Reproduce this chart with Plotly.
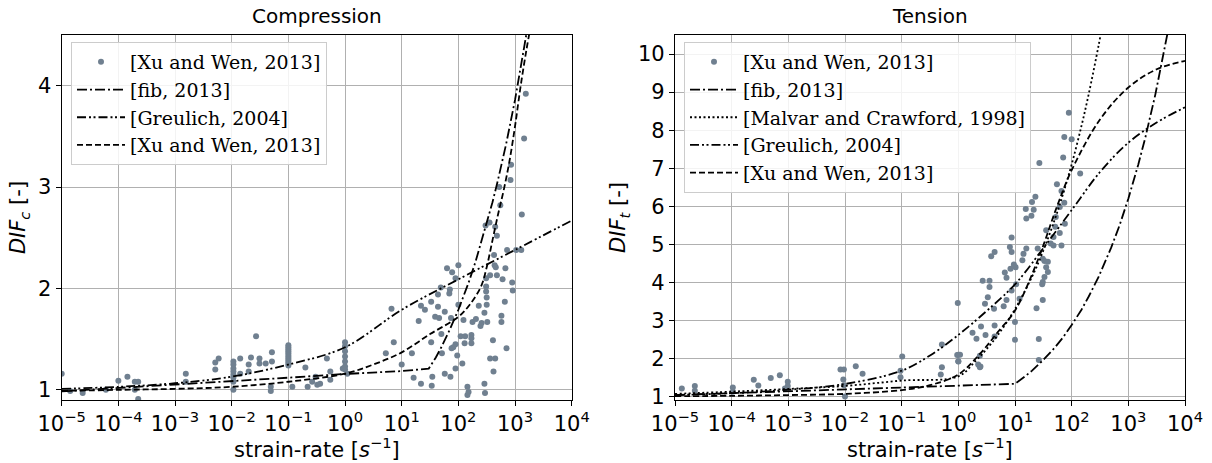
import numpy as np
import plotly.graph_objects as go

# ---------------- data ----------------
# Compression experimental data [Xu and Wen, 2013]: log10(strain-rate), DIF_c
comp_log_rate = [
    -5.0, -4.85, -4.63, -4.22, -4.0, -3.84, -3.71, -3.65, -3.71, -3.65,
    -2.81, -2.81, -2.29, -2.23, -2.29,
    -1.97, -1.97, -1.97, -1.97, -1.97, -1.97, -1.97, -1.97,
    -1.85, -1.85, -1.7, -1.7, -1.66, -1.57, -1.51, -1.51, -1.40, -1.29, -1.29, -1.31, -1.31,
    -1.0, -1.0, -1.0, -1.0, -1.0, -1.0, -1.0, -1.0, -1.0, -1.0, -1.0,
    -0.93, -0.7, -0.66, -0.58, -0.52, -0.49, -0.44, -0.32, -0.26, -0.26,
    0.0, 0.0, 0.0, 0.0, 0.0, 0.0, 0.0, -0.04, 0.04,
    0.82, 0.86, 0.72, 1.0, 1.18, 1.21, 1.30, 1.34, 1.34, 1.41, 1.52, 1.52, 1.54, 1.53,
    1.59, 1.64, 1.64, 1.66, 1.69, 1.70, 1.71, 1.76, 1.76, 1.80, 1.84, 1.86, 1.87, 1.85,
    1.89, 1.88, 1.91, 1.95, 1.95, 1.98, 1.95, 2.0, 2.0, 2.04, 2.07, 2.09, 2.11, 2.12,
    2.16, 2.18, 2.16, 2.23, 2.23, 2.23, 2.25, 2.31, 2.36, 2.39, 2.41, 2.46, 2.46, 2.47,
    2.49, 2.49, 2.49, 2.50, 2.50, 2.51, 2.48, 2.55, 2.56, 2.56, 2.61, 2.62, 2.65, 2.65,
    2.63, 2.64, 2.68, 2.68, 2.66, 2.72, 2.74, 2.76, 2.76, 2.78, 2.82, 2.83, 2.85, 2.86,
    2.92, 2.95, 2.96, 3.02, 3.11, 3.12, 3.19, 3.16, 2.93,
]
comp_dif = [
    1.16, 0.99, 0.97, 1.0, 1.09, 1.13, 1.08, 1.08, 1.0, 0.91,
    1.16, 1.08, 1.27, 1.31, 1.20,
    1.28, 1.25, 1.21, 1.18, 1.15, 1.12, 1.08, 1.0,
    1.31, 1.16, 1.25, 1.18, 1.32, 1.53, 1.31, 1.26, 1.26, 1.37, 1.28, 1.03, 0.99,
    1.44, 1.42, 1.40, 1.38, 1.36, 1.34, 1.32, 1.30, 1.28, 1.26, 1.24,
    1.03, 1.22, 1.03, 1.08, 1.13, 1.05, 1.06, 1.31, 1.18, 1.10,
    1.47, 1.43, 1.38, 1.33, 1.28, 1.23, 1.20, 1.21, 1.16,
    1.80, 1.47, 1.36, 1.25, 1.36, 1.12, 1.68, 1.83, 1.06, 1.79, 1.87, 1.47, 1.13, 1.04,
    1.72, 1.82, 1.94, 1.71, 2.01, 1.55, 1.36, 1.16, 1.77, 2.20, 1.95, 1.13, 1.71, 1.99,
    2.16, 1.41, 1.42, 2.10, 1.45, 1.34, 1.21, 2.23, 1.84, 1.53, 1.26, 1.69, 1.46, 1.53,
    1.03, 0.98, 0.95, 1.54, 1.51, 1.46, 1.67, 1.70, 1.83, 1.63, 1.66, 1.76, 1.06, 0.97,
    2.10, 2.02, 1.97, 1.91, 1.84, 1.67, 2.62, 2.65, 2.13, 1.31, 1.49, 1.18, 1.31, 2.61,
    2.33, 2.23, 2.52, 2.13, 2.21, 3.0, 2.82, 1.73, 1.67, 2.09, 1.87, 2.20, 1.41, 2.38,
    3.07, 2.06, 1.98, 2.38, 2.38, 2.73, 3.92, 3.48, 3.22,
]

# Tension experimental data [Xu and Wen, 2013]: log10(strain-rate), DIF_t
tens_log_rate = [
    -4.88, -4.65, -4.65, -3.98, -3.98, -3.61, -3.53, -3.31, -3.15, -3.01, -3.01, -3.06,
    -2.08, -2.02, -2.03, -2.02, -2.0, -1.81, -1.69, -0.99, -1.02, -1.02,
    -0.29, -0.29, -0.31, -0.02, 0.0,
    1.95, 1.87, 2.0, 1.85, 1.43, 1.74, 1.82, 1.87, 1.79, 1.36, 1.30, 1.19, 1.33, 1.29,
    1.2, 1.72, 1.88, 1.71, 1.79, 1.68, 1.63, 1.68, 1.82, 1.55, 1.40, 1.2, 1.15, 1.13,
    0.94, 0.91, 0.94, 0.98, 1.01, 0.92, 0.82, 0.85, 0.64, 0.58, 1.02, 0.94, 1.08, 0.85,
    0.80, 1.0, 1.0, 1.49, 1.52, 1.58, 1.55, 1.58, 1.52, 1.49, 1.48, 1.49, 1.38, 1.42,
    1.42, 0.43, 0.55, 0.55, 0.52, 0.47, 0.63, 0.40, 0.32, 0.48, 0.64, 0.64, 0.25, 0.38,
    0.35, 0.38, 0.39, -0.01, 0.0, 0.03, 0.0, 2.15,
]
tens_dif = [
    1.21, 1.28, 1.15, 1.24, 1.13, 1.44, 1.29, 1.49, 1.56, 1.39, 1.28, 1.21,
    1.71, 1.71, 1.45, 1.30, 1.0, 1.80, 1.60, 2.05, 1.68, 1.51,
    2.37, 1.77, 1.58, 2.09, 1.92,
    8.46, 7.82, 7.76, 7.28, 7.14, 6.58, 6.40, 6.09, 5.98, 6.25, 6.11, 5.93, 5.91, 5.75,
    5.68, 5.72, 5.54, 5.46, 5.30, 5.19, 5.02, 4.97, 4.97, 5.37, 4.89, 4.89, 4.75, 4.58,
    5.18, 4.93, 4.80, 4.47, 4.40, 4.36, 4.26, 4.12, 4.80, 4.69, 3.95, 3.79, 3.57, 3.54,
    3.37, 2.96, 2.49, 4.62, 4.56, 4.54, 4.40, 4.27, 4.14, 4.01, 3.95, 3.54, 3.32, 2.51,
    1.96, 4.04, 4.04, 3.88, 3.61, 3.44, 3.31, 2.84, 2.52, 2.62, 2.87, 2.58, 2.68, 2.07,
    1.84, 1.77, 1.79, 3.46, 2.1, 2.1, 1.93, 6.86,
]

# Model curves, compression
c_fib_rate = [1e-5, 1e-4, 1e-3, 1e-2, 1e-1, 1e0, 1e1, 30, 40, 50, 70, 100, 150, 200, 300,
              400, 500, 700, 1000, 1300, 1600]
c_fib_dif = [0.985, 1.017, 1.05, 1.085, 1.12, 1.157, 1.185, 1.21, 1.32, 1.42, 1.59, 1.79,
             2.05, 2.26, 2.59, 2.85, 3.07, 3.43, 3.86, 4.22, 4.52]
c_greu_rate = [1e-5, 1e-4, 1e-3, 1e-2, 1e-1, 1e0, 1e1, 1e2, 1e3, 1e4]
c_greu_dif = [1.01, 1.03, 1.065, 1.13, 1.25, 1.42, 1.79, 2.09, 2.38, 2.67]
c_xu_rate = [1e-5, 1e-4, 1e-3, 1e-2, 1e-1, 1e0, 10**0.5, 1e1, 10**1.5, 1e2, 10**2.2, 10**2.4,
             10**2.5, 10**2.6, 10**2.7, 10**2.8, 10**2.9, 1e3, 10**3.1, 10**3.2, 10**3.28]
c_xu_dif = [0.99, 1.0, 1.01, 1.03, 1.08, 1.16, 1.25, 1.37, 1.55, 1.72, 1.84, 2.02,
            2.21, 2.47, 2.73, 2.97, 3.25, 3.6, 4.0, 4.35, 4.6]

# Model curves, tension
t_fib_rate = [1e-5, 1e-4, 1e-3, 1e-2, 1e-1, 1e0, 10, 15, 20, 30, 50, 70, 100, 150, 200,
              300, 500, 700, 1000, 1500, 2000, 3000, 4000, 5000]
t_fib_dif = [1.04, 1.09, 1.13, 1.18, 1.23, 1.28, 1.336, 1.53, 1.68, 1.93, 2.28, 2.55, 2.88,
             3.29, 3.63, 4.15, 4.92, 5.50, 6.2, 7.10, 7.81, 8.94, 9.84, 10.60]
t_malv_rate = [1e-5, 1e-4, 1e-3, 1e-2, 1e-1, 1e0, 2, 3, 5, 10, 20, 30, 50, 70, 100, 150,
               200, 300, 350]
t_malv_dif = [1.07, 1.13, 1.20, 1.28, 1.42, 1.53, 1.93, 2.21, 2.62, 3.30, 4.15, 4.75, 5.64,
              6.31, 7.10, 8.13, 8.95, 10.24, 10.78]
t_greu_rate = [1e-5, 1e-4, 1e-3, 1e-2, 1e-1, 10**-0.5, 1e0, 10**0.5, 1e1, 10**1.5, 1e2,
               10**2.5, 1e3, 10**3.5, 1e4]
t_greu_dif = [1.04, 1.09, 1.18, 1.33, 1.68, 2.08, 2.62, 3.25, 3.95, 4.9, 5.9, 6.9, 7.67,
              8.2, 8.6]
t_xu_rate = [1e-5, 1e-4, 1e-3, 1e-2, 1e-1, 10**-0.5, 1e0, 10**0.38, 10**0.7, 1e1, 10**1.38,
             10**1.76, 1e2, 10**2.5, 1e3, 10**3.5, 1e4]
t_xu_dif = [1.01, 1.02, 1.04, 1.07, 1.17, 1.3, 1.58, 2.12, 2.7, 3.26, 4.5, 6.07, 6.95,
            8.28, 9.12, 9.6, 9.82]

x_tickvals = [1e-5, 1e-4, 1e-3, 1e-2, 1e-1, 1e0, 1e1, 1e2, 1e3, 1e4]
x_ticktext = ["10<sup>\u22125</sup>", "10<sup>\u22124</sup>", "10<sup>\u22123</sup>",
              "10<sup>\u22122</sup>", "10<sup>\u22121</sup>", "10<sup>0</sup>",
              "10<sup>1</sup>", "10<sup>2</sup>", "10<sup>3</sup>", "10<sup>4</sup>"]
c_yticks = [1, 2, 3, 4]
t_yticks = [1, 2, 3, 4, 5, 6, 7, 8, 9, 10]

# ---------------- styles ----------------
PT_COLOR = "#708090"
LW = 1.8
DASH_FIB = "10px,3px,2px,3px"
DASH_GREU = "9px,3px,2px,2.5px,2px,3px"
DASH_XU = "6px,3px"
DASH_MALV = "2px,2.5px"
SANS = "DejaVu Sans"
SERIF = "DejaVu Serif"
TICK_SIZE = 21
LABEL_SIZE = 21
TITLE_SIZE = 20
LEG_SIZE = 19

fig = go.Figure()


def add_panel(xa, ya, legend, pts_x, pts_y, curves):
    fig.add_trace(go.Scatter(
        x=np.power(10.0, pts_x), y=pts_y, mode="markers", name="[Xu and Wen, 2013]",
        marker=dict(color=PT_COLOR, size=6), xaxis=xa, yaxis=ya, legend=legend))
    for name, xs, ys, dash, shape in curves:
        fig.add_trace(go.Scatter(
            x=xs, y=ys, mode="lines", name=name, xaxis=xa, yaxis=ya, legend=legend,
            line=dict(color="black", width=LW, dash=dash, shape=shape)))


add_panel("x", "y", "legend", comp_log_rate, comp_dif, [
    ("[fib, 2013]", c_fib_rate, c_fib_dif, DASH_FIB, "linear"),
    ("[Greulich, 2004]", c_greu_rate, c_greu_dif, DASH_GREU, "spline"),
    ("[Xu and Wen, 2013]", c_xu_rate, c_xu_dif, DASH_XU, "spline"),
])
add_panel("x2", "y2", "legend2", tens_log_rate, tens_dif, [
    ("[fib, 2013]", t_fib_rate, t_fib_dif, DASH_FIB, "linear"),
    ("[Malvar and Crawford, 1998]", t_malv_rate, t_malv_dif, DASH_MALV, "spline"),
    ("[Greulich, 2004]", t_greu_rate, t_greu_dif, DASH_GREU, "spline"),
    ("[Xu and Wen, 2013]", t_xu_rate, t_xu_dif, DASH_XU, "spline"),
])

ydom = [1 - 400 / 463, 1 - 35 / 463]
xdom1 = [61.7 / 1212, 571.7 / 1212]
xdom2 = [675 / 1212, 1185 / 1212]

common_x = dict(type="log", range=[-5, 4], tickvals=x_tickvals, ticktext=x_ticktext,
                showgrid=True, gridcolor="#b0b0b0", gridwidth=1, showline=True,
                linecolor="black", linewidth=1.2, mirror=True, ticks="outside",
                ticklen=5, tickcolor="black",
                tickfont=dict(family=SANS, size=TICK_SIZE, color="black"),
                zeroline=False, automargin=False)
common_y = dict(showgrid=True, gridcolor="#b0b0b0", gridwidth=1, showline=True,
                linecolor="black", linewidth=1.2, mirror=True, ticks="outside",
                ticklen=5, tickcolor="black",
                tickfont=dict(family=SANS, size=TICK_SIZE, color="black"),
                zeroline=False, automargin=False)

leg_common = dict(yanchor="top", xanchor="left", y=1 - 42 / 463,
                  bgcolor="rgba(255,255,255,0.85)", bordercolor="#cccccc", borderwidth=1,
                  font=dict(family=SERIF, size=LEG_SIZE, color="black"), itemwidth=48,
                  tracegroupgap=0)

XLABEL = "strain-rate [<i>s</i><sup>\u22121</sup>]"


def text_ann(text, x, y, size, yanchor="middle", angle=0):
    return dict(text=text, x=x, y=y, xref="paper", yref="paper", xanchor="center",
                yanchor=yanchor, showarrow=False, textangle=angle,
                font=dict(family=SANS, size=size, color="black"))


fig.update_layout(
    width=1212, height=463,
    margin=dict(l=0, r=0, t=0, b=0),
    paper_bgcolor="white", plot_bgcolor="white",
    xaxis=dict(domain=xdom1, anchor="y", **common_x),
    yaxis=dict(domain=ydom, anchor="x", range=[0.9, 4.5], tickvals=c_yticks,
               title=dict(text="<i>DIF</i><sub><i>c</i></sub> [-]",
                          font=dict(family=SANS, size=LABEL_SIZE, color="black"), standoff=6),
               **common_y),
    xaxis2=dict(domain=xdom2, anchor="y2", **common_x),
    yaxis2=dict(domain=ydom, anchor="x2", range=[0.91, 10.5], tickvals=t_yticks,
                title=dict(text="<i>DIF</i><sub><i>t</i></sub> [-]",
                           font=dict(family=SANS, size=LABEL_SIZE, color="black"), standoff=6),
                **common_y),
    legend=dict(x=71 / 1212, **leg_common),
    legend2=dict(x=684 / 1212, **leg_common),
    annotations=[
        text_ann("Compression", (xdom1[0] + xdom1[1]) / 2, 1 - 30 / 463, TITLE_SIZE, "bottom"),
        text_ann("Tension", (xdom2[0] + xdom2[1]) / 2, 1 - 30 / 463, TITLE_SIZE, "bottom"),
        text_ann(XLABEL, (xdom1[0] + xdom1[1]) / 2, 1 - 448 / 463, LABEL_SIZE),
        text_ann(XLABEL, (xdom2[0] + xdom2[1]) / 2, 1 - 448 / 463, LABEL_SIZE),
    ],
)

fig.write_html("out.html")
